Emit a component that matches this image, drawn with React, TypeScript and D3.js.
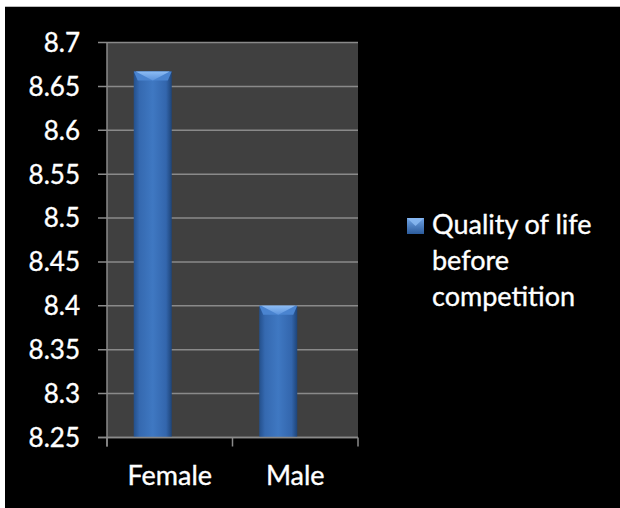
import React from "react";
import * as d3 from "d3";

const categories = ["Female", "Male"];
const values = [8.667, 8.4];
const yTicks = [8.25, 8.3, 8.35, 8.4, 8.45, 8.5, 8.55, 8.6, 8.65, 8.7];
const seriesName = ["Quality of life", "before", "competition"];

const W = 620;
const H = 508;
const plot = { left: 107, right: 358, top: 42.5, bottom: 437.5 };

export default function App() {
  const y = d3.scaleLinear().domain([8.25, 8.7]).range([plot.bottom, plot.top]);
  const x = d3.scaleBand().domain(categories).range([plot.left, plot.right]);
  const barW = 38;
  const barShift = -17;
  const font = "Lato, 'Open Sans', sans-serif";
  const textStyle = { stroke: "#ffffff", strokeWidth: 0.35 } as const;

  return (
    <div style={{ position: "absolute", left: 0, top: 0 }}>
      <svg width={W} height={H} style={{ display: "block" }}>
        <defs>
          <linearGradient id="barGrad" x1="0" x2="1" y1="0" y2="0">
            <stop offset="0" stopColor="#24508c" />
            <stop offset="0.15" stopColor="#3569b0" />
            <stop offset="0.5" stopColor="#3f78c2" />
            <stop offset="0.85" stopColor="#3366ad" />
            <stop offset="1" stopColor="#1e4478" />
          </linearGradient>
          <linearGradient id="capGrad" x1="0" x2="0" y1="0" y2="1">
            <stop offset="0" stopColor="#8cbcf4" />
            <stop offset="1" stopColor="#5a92dc" />
          </linearGradient>
          <linearGradient id="legGrad" x1="0" x2="0" y1="0" y2="1">
            <stop offset="0" stopColor="#6fa4e6" />
            <stop offset="1" stopColor="#2c5c9c" />
          </linearGradient>
        </defs>
        <rect x={0} y={0} width={W} height={H} fill="#ffffff" />
        <rect x={5} y={7} width={W - 5} height={H - 7} fill="#000000" />
        <line x1={5} x2={W} y1={6.5} y2={6.5} stroke="#bbbbbb" strokeWidth={1} />
        <rect
          x={plot.left}
          y={plot.top}
          width={plot.right - plot.left}
          height={plot.bottom - plot.top}
          fill="#404040"
        />
        {yTicks.map((t) => (
          <g key={t}>
            <line
              x1={plot.left - 9}
              x2={plot.right}
              y1={y(t)}
              y2={y(t)}
              stroke="#8a8a8a"
              strokeWidth={1.5}
            />
            <text
              x={80}
              y={y(t)}
              dy="0.36em"
              textAnchor="end"
              fill="#ffffff"
              fontFamily={font}
              fontSize={26}
              style={textStyle}
            >
              {String(t)}
            </text>
          </g>
        ))}
        {categories.map((c, i) => {
          const cx = (x(c) as number) + x.bandwidth() / 2 + barShift;
          const x0 = cx - barW / 2;
          const yt = y(values[i]);
          const capH = 9;
          return (
            <g key={c}>
              <rect
                x={x0}
                y={yt}
                width={barW}
                height={plot.bottom - yt}
                fill="url(#barGrad)"
              />
              <polygon
                points={`${x0},${yt} ${x0 + barW},${yt} ${x0 + barW - 4},${yt + capH} ${x0 + 4},${yt + capH}`}
                fill="#4a84d0"
              />
              <polygon
                points={`${x0 + 2},${yt} ${x0 + barW - 2},${yt} ${cx},${yt + capH}`}
                fill="url(#capGrad)"
              />
            </g>
          );
        })}
        <line
          x1={plot.left}
          x2={plot.left}
          y1={plot.top}
          y2={plot.bottom + 9}
          stroke="#8a8a8a"
          strokeWidth={1.5}
        />
        <line
          x1={plot.left - 9}
          x2={plot.right}
          y1={plot.bottom}
          y2={plot.bottom}
          stroke="#8a8a8a"
          strokeWidth={1.5}
        />
        {[...categories.map((c) => x(c) as number), plot.right].map((v, i) => (
          <line
            key={i}
            x1={v}
            x2={v}
            y1={plot.bottom}
            y2={plot.bottom + 9}
            stroke="#8a8a8a"
            strokeWidth={1.5}
          />
        ))}
        {categories.map((c) => (
          <text
            key={c}
            x={(x(c) as number) + x.bandwidth() / 2}
            y={485}
            textAnchor="middle"
            fill="#ffffff"
            fontFamily={font}
            fontSize={27}
            style={textStyle}
          >
            {c}
          </text>
        ))}
        <rect x={407} y={218} width={17} height={16} fill="url(#legGrad)" />
        <polygon points="407,218 424,218 415.5,226" fill="#8cbcf4" opacity={0.8} />
        {seriesName.map((s, i) => (
          <text
            key={s}
            x={432}
            y={234 + i * 36}
            fill="#ffffff"
            fontFamily={font}
            fontSize={27}
            style={textStyle}
          >
            {s}
          </text>
        ))}
      </svg>
    </div>
  );
}
